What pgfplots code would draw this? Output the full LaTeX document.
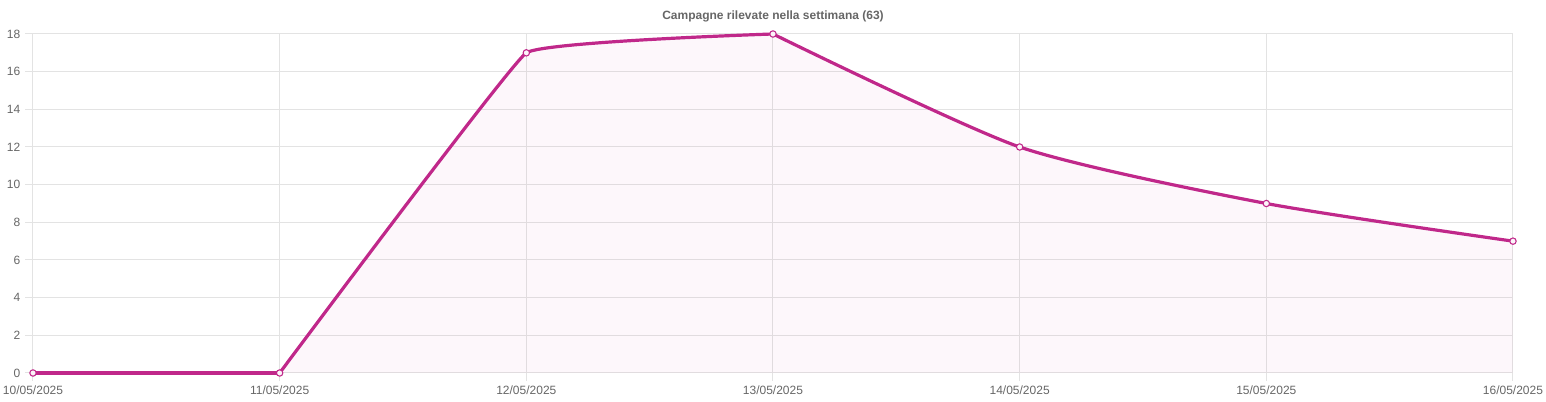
\documentclass[border=0pt]{standalone}
\usepackage{fontspec}
\setmainfont{Liberation Sans}
\usepackage{pgfplots}
\pgfplotsset{compat=1.18}
\definecolor{linec}{HTML}{C0288A}
\definecolor{gridc}{HTML}{E3E3E3}
\definecolor{txt}{HTML}{666666}
\begin{document}
\begin{tikzpicture}
\begin{axis}[
  at={(0,0)}, anchor=south west,
  scale only axis,
  width=1110pt, height=254.25pt,
  xmin=0, xmax=6, ymin=0, ymax=18,
  clip=false,
  xtick={0,...,6},
  xticklabels={10/05/2025,11/05/2025,12/05/2025,13/05/2025,14/05/2025,15/05/2025,16/05/2025},
  ytick={0,2,...,18},
  grid=major,
  major grid style={draw=gridc, line width=0.75pt},
  axis line style={draw=gridc, line width=0.75pt},
  tick align=outside,
  tick pos=left,
  major tick length=6pt,
  tick style={draw=gridc, line width=0.75pt},
  /pgf/number format/assume math mode=true,
  ticklabel style={font=\fontsize{9}{10}\selectfont, text=txt},
  title={Campagne rilevate nella settimana (63)},
  title style={font=\bfseries\fontsize{9}{10}\selectfont, text=txt, at={(0.5,1)}, anchor=base, yshift=4.5pt, inner sep=0pt},
]
\addplot[draw=none, fill=linec, fill opacity=0.035, smooth, tension=0.12] coordinates {(1,0)(2,17)(3,18)} \closedcycle;
\addplot[draw=none, fill=linec, fill opacity=0.035, smooth, tension=0.4] coordinates {(3,18)(4,12)(5,9)(6,7)} \closedcycle;
\addplot[linec, line width=2.4pt, line cap=round] coordinates {(0,0)(1,0)};
\addplot[linec, line width=2.4pt, line cap=round, smooth, tension=0.12] coordinates {(1,0)(2,17)(3,18)};
\addplot[linec, line width=2.4pt, line cap=round, smooth, tension=0.4] coordinates {(3,18)(4,12)(5,9)(6,7)};
\addplot[only marks, mark=*, mark size=2.4pt, mark options={draw=linec, fill=linec!5, line width=0.8pt}] coordinates {(0,0)(1,0)(2,17)(3,18)(4,12)(5,9)(6,7)};
\end{axis}
\pgfresetboundingbox
\path (-24.75pt,-21.75pt) rectangle (1134.75pt,279.75pt);
\end{tikzpicture}
\end{document}
